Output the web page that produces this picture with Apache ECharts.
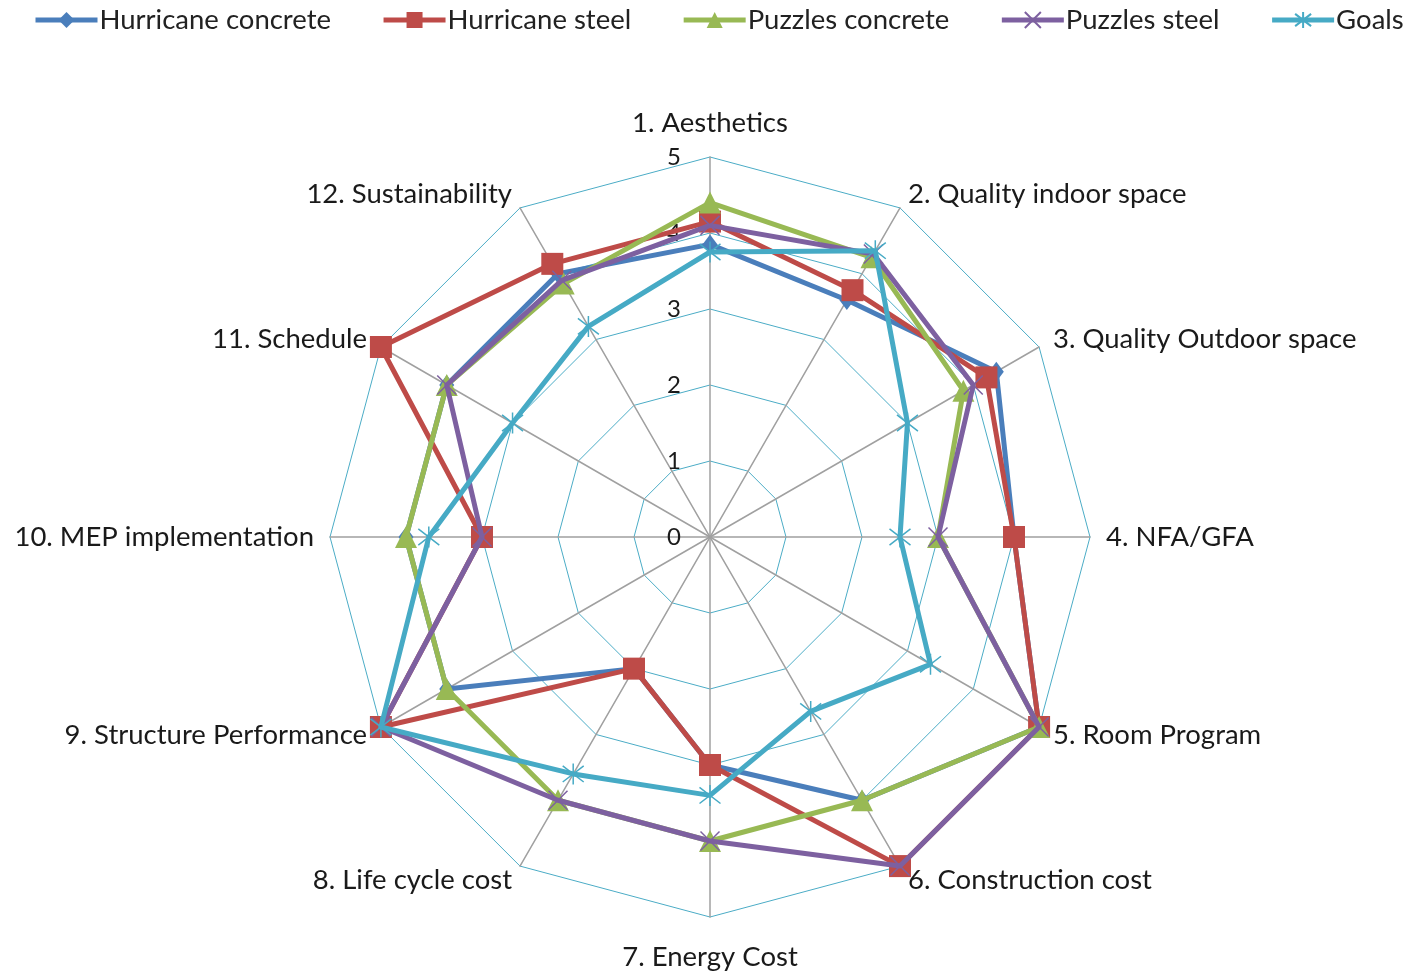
<!DOCTYPE html>
<html>
<head>
<meta charset="utf-8">
<script src="https://cdn.jsdelivr.net/npm/echarts@6/dist/echarts.min.js"></script>
<style>html,body{margin:0;padding:0;background:#fff}#c{width:1410px;height:971px}</style>
</head>
<body>
<div id="c"></div>
<script>
// Categories in clockwise order starting at top
const categories = ['1. Aesthetics','2. Quality indoor space','3. Quality Outdoor space','4. NFA/GFA','5. Room Program','6. Construction cost','7. Energy Cost','8. Life cycle cost','9. Structure Performance','10. MEP implementation','11. Schedule','12. Sustainability'];
const hurricaneConcrete = [3.85, 3.6, 4.35, 4.0, 5.0, 4.0, 3.0, 2.0, 4.0, 4.0, 4.0, 4.0];
const hurricaneSteel    = [4.15, 3.75, 4.2, 4.0, 5.0, 5.0, 3.0, 2.0, 5.0, 3.0, 5.0, 4.15];
const puzzlesConcrete   = [4.4, 4.25, 3.85, 3.0, 5.0, 4.0, 4.0, 4.0, 4.0, 4.0, 4.0, 3.85];
const puzzlesSteel      = [4.1, 4.3, 4.0, 3.0, 5.0, 5.0, 4.0, 4.0, 5.0, 3.0, 4.0, 3.9];
const goals             = [3.75, 4.35, 3.0, 2.5, 3.35, 2.65, 3.4, 3.6, 5.0, 3.7, 3.0, 3.2];
const axisMin = 0, axisMax = 5, axisSplits = 5;

const FONT = 'Lato';
const X_PATH = 'path://M0,0L10,10M10,0L0,10';
const STAR_PATH = 'path://M0,0L10,10M10,0L0,10M5,-1.5L5,11.5';

const seriesDefs = [
  {name:'Hurricane concrete', data:hurricaneConcrete, color:'#4A7EBB', symbol:'diamond', size:[15,20], border:0},
  {name:'Hurricane steel', data:hurricaneSteel, color:'#BE4B48', symbol:'rect', size:22, border:0},
  {name:'Puzzles concrete', data:puzzlesConcrete, color:'#98B954', symbol:'triangle', size:22, border:0},
  {name:'Puzzles steel', data:puzzlesSteel, color:'#7D60A0', symbol:X_PATH, size:19, border:1.5},
  {name:'Goals', data:goals, color:'#46AAC5', symbol:STAR_PATH, size:21, border:1.5}
];

// ECharts lays radar indicators counter-clockwise; reorder so they read clockwise
const order = categories.map((_, i) => (categories.length - i) % categories.length);
const nameGaps = {0: 20, 6: 26};
const indicator = order.map((k, j) => {
  const ind = {name: categories[k], min: axisMin, max: axisMax};
  if (nameGaps[k] !== undefined) ind.nameGap = nameGaps[k];
  if (j === 0) ind.axisLabel = {show: true};
  return ind;
});

const chart = echarts.init(document.getElementById('c'), null, {renderer:'canvas'});

const legendSeries = seriesDefs.map(d => ({
  type:'line', name:d.name, data:[], xAxisIndex:0, yAxisIndex:0,
  symbol:d.symbol, symbolSize:d.size,
  lineStyle:{color:d.color, width:5},
  itemStyle:{color:d.color, borderColor:d.color, borderWidth:d.border}
}));

const radarSeries = seriesDefs.map((d, i) => ({
  type:'radar', name:d.name, z: 2 + i,
  symbol:d.symbol, symbolSize:d.size,
  lineStyle:{color:d.color, width:5},
  itemStyle:{color:d.color, borderColor:d.color, borderWidth:d.border},
  data:[{name:d.name, value: order.map(k => d.data[k])}]
}));

chart.setOption({
  animation:false,
  textStyle:{fontFamily:FONT},
  legend:{
    top:1, left:28, itemWidth:62, itemHeight:20, itemGap:50,
    lineStyle:{width:5},
    textStyle:{fontSize:27.5, color:'#222', fontFamily:FONT, padding:[0,0,0,-3]},
    data: seriesDefs.map(d => d.name)
  },
  grid:{show:false, left:0, top:0, width:1, height:1},
  xAxis:{show:false, type:'value'},
  yAxis:{show:false, type:'value'},
  radar:{
    center:[710, 537], radius:380, startAngle:90,
    splitNumber:axisSplits, shape:'polygon',
    indicator: indicator,
    axisName:{color:'#1a1a1a', fontSize:27.5, fontFamily:FONT},
    nameGap:16,
    axisLine:{lineStyle:{color:'#a0a0a0', width:1.5}},
    splitLine:{lineStyle:{color:'#4BACC6', width:1}},
    splitArea:{show:false},
    axisTick:{show:false},
    axisLabel:{show:false, color:'#1a1a1a', fontSize:24, fontFamily:FONT, margin:29, padding:[6,0,0,0]}
  },
  series: legendSeries.concat(radarSeries)
});
</script>
</body>
</html>
